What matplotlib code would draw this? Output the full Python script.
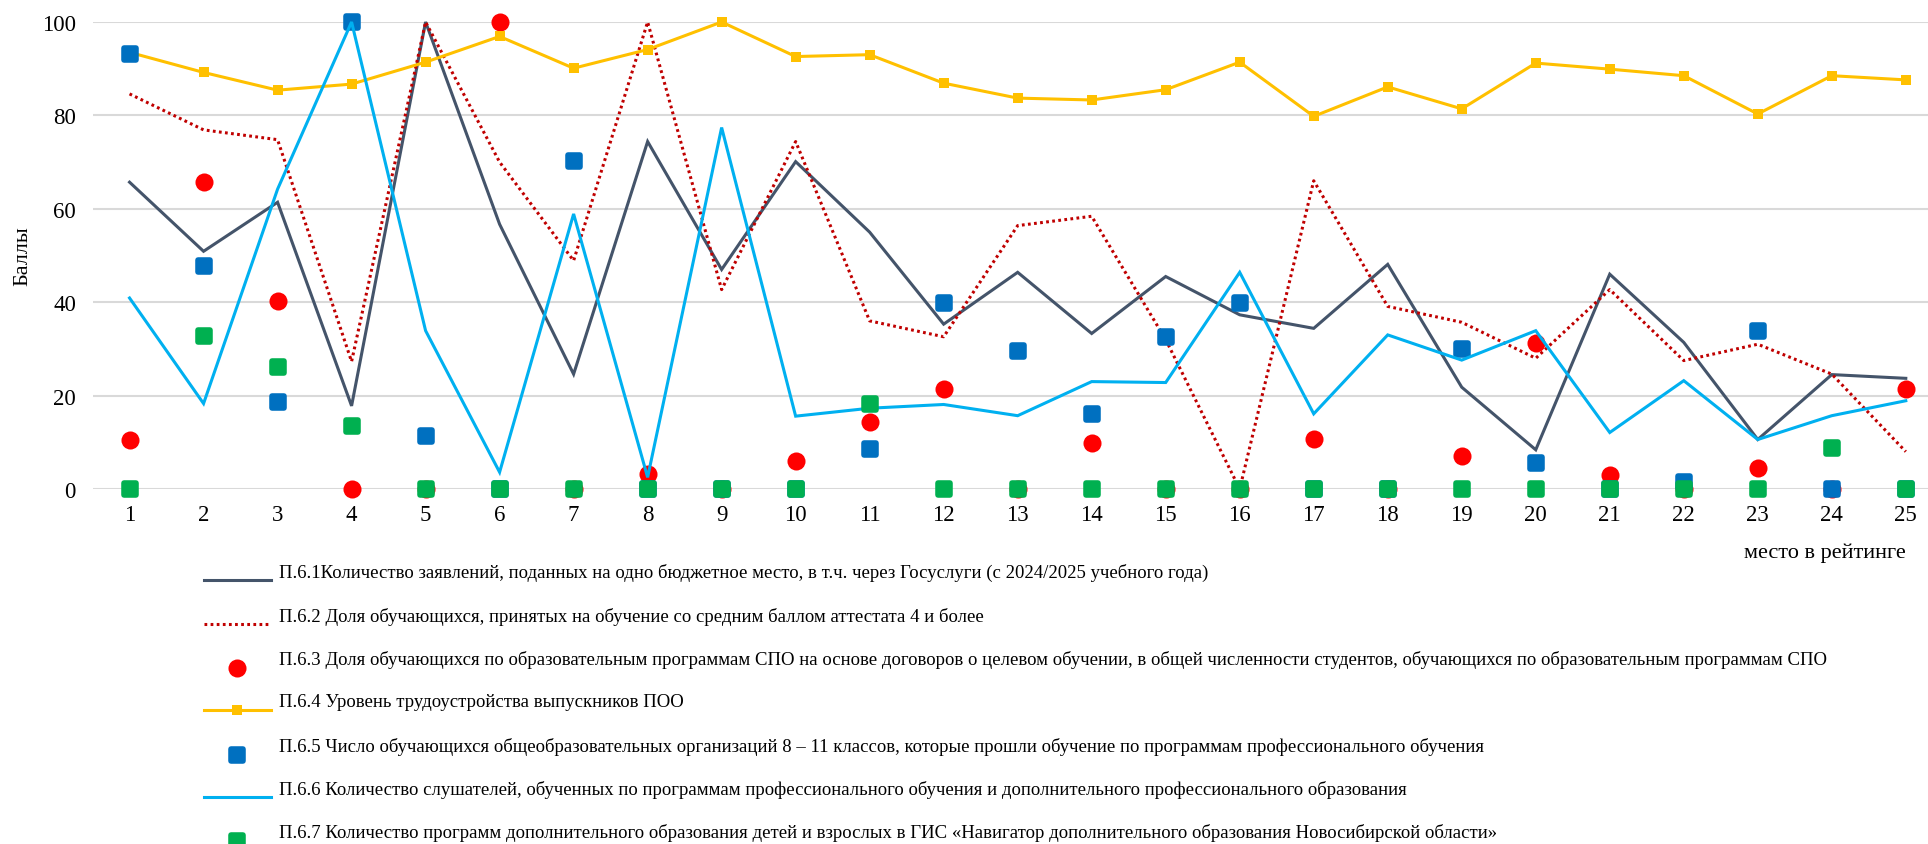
import matplotlib
matplotlib.use("Agg")
import matplotlib.pyplot as plt
from matplotlib.lines import Line2D
from matplotlib.markers import MarkerStyle

plt.rcParams['font.family'] = ['Liberation Serif', 'DejaVu Serif']

places = list(range(1, 26))

p61 = [65.7, 50.9, 61.4, 17.8, 100, 56.7, 24.6, 74.4, 47.0, 70.1, 55.0, 35.3, 46.4,
       33.3, 45.5, 37.3, 34.4, 48.1, 21.8, 8.4, 46.0, 31.4, 10.6, 24.5, 23.7]
p62 = [84.6, 76.9, 74.8, 27.3, 100, 70.0, 48.9, 100, 42.7, 74.4, 36.0, 32.6, 56.4,
       58.4, 32.0, 0, 66.0, 39.1, 35.7, 28.0, 42.7, 27.5, 31.0, 24.6, 8.0]
p63 = [10.6, 65.8, 40.3, 0, 0, 100, 0, 3.2, 0, 5.9, 14.3, 21.4, 0,
       9.9, 0, 0, 10.7, 0, 7.0, 31.2, 3.1, 0, 4.4, 0, 21.4]
p64 = [93.5, 89.2, 85.4, 86.7, 91.4, 96.9, 90.1, 94.1, 100, 92.6, 93.0, 86.9, 83.7,
       83.3, 85.5, 91.4, 79.8, 86.1, 81.4, 91.2, 89.9, 88.5, 80.3, 88.5, 87.6]
p65 = [93.1, 47.8, 18.6, 100, 11.4, 0, 70.2, 0, 0, 0, 8.6, 39.8, 29.5,
       16.1, 32.5, 39.8, 0, 0, 30.0, 5.6, 0, 1.4, 33.9, 0, 0]
p66 = [40.9, 18.3, 64.2, 100, 33.9, 3.6, 58.9, 2.5, 77.4, 15.6, 17.3, 18.1, 15.7,
       23.0, 22.8, 46.4, 16.1, 33.0, 27.6, 33.9, 12.1, 23.2, 10.6, 15.7, 18.9]
p67 = [0, 32.8, 26.2, 13.4, 0, 0, 0, 0, 0, 0, 18.2, 0, 0,
       0, 0, 0, 0, 0, 0, 0, 0, 0, 0, 8.8, 0]

labels = [
    "П.6.1Количество заявлений, поданных на одно бюджетное место, в т.ч. через Госуслуги (с 2024/2025 учебного года)",
    "П.6.2 Доля обучающихся, принятых на обучение со средним баллом аттестата 4 и более",
    "П.6.3 Доля обучающихся по образовательным программам СПО на основе договоров о целевом обучении, в общей численности студентов, обучающихся по образовательным программам СПО",
    "П.6.4 Уровень трудоустройства выпускников ПОО",
    "П.6.5 Число обучающихся общеобразовательных организаций 8 – 11 классов, которые прошли обучение по программам профессионального обучения",
    "П.6.6 Количество слушателей, обученных по программам профессионального обучения и дополнительного профессионального образования",
    "П.6.7 Количество программ дополнительного образования детей и взрослых в ГИС «Навигатор дополнительного образования Новосибирской области»",
]

rsq = MarkerStyle('s', joinstyle='round')
styles = [
    dict(color='#44546A', lw=2.2, ls='-', marker=None),
    dict(color='#C00000', lw=2.2, ls=(0, (0.9, 1.1)), marker=None),
    dict(color='#FF0000', lw=0, ls='none', marker='o', ms=13, mew=0),
    dict(color='#FFC000', lw=2.2, ls='-', marker='s', ms=7.5, mew=0),
    dict(color='#0070C0', lw=0, ls='none', marker=rsq, ms=9, mew=4),
    dict(color='#00B0F0', lw=2.2, ls='-', marker=None),
    dict(color='#00B050', lw=0, ls='none', marker=rsq, ms=9, mew=4),
]
series = [p61, p62, p63, p64, p65, p66, p67]

fig = plt.figure(figsize=(19.28, 8.45), dpi=100)
ax = fig.add_axes([0.048, 0.4201, 0.952, 0.5527])

for vals, st in zip(series, styles):
    ax.plot(places, vals, color=st['color'], lw=st['lw'], ls=st['ls'],
            marker=st['marker'], ms=st.get('ms', 0), mew=st.get('mew', 0),
            mec=st['color'], mfc=st['color'], clip_on=False,
            solid_joinstyle='miter')

ax.set_xlim(0.5, 25.3)
ax.set_ylim(0, 100)
ax.set_xticks(places)
ax.set_yticks(range(0, 101, 20))
ax.grid(axis='y', color='#D9D9D9', lw=1.5)
ax.set_axisbelow(True)
for s in ax.spines.values():
    s.set_visible(False)
ax.tick_params(length=0, labelsize=16.5, colors='black')
ax.tick_params(axis='y', pad=12)
ax.tick_params(axis='x', pad=11)
ax.set_ylabel("Баллы", fontsize=16)
ax.yaxis.set_label_coords(-0.033, 0.5)

fig.text(1906 / 1928, 1 - 553 / 845, "место в рейтинге", fontsize=16,
         ha='right', va='center')

# legend drawn row by row below the plot
W, H = 1928, 845
rows_y = [573, 617, 660, 703, 747, 790, 833]
for lab, st, y in zip(labels, styles, rows_y):
    if st['lw'] > 0:
        yf = 1 - (y + 8) / H
        fig.add_artist(Line2D([204 / W, 271 / W], [yf, yf], transform=fig.transFigure,
                              color=st['color'], lw=st['lw'], ls=st['ls']))
    if st['marker'] is not None:
        my = 1 - (y + 8) / H if st['lw'] > 0 else 1 - (y + 9) / H
        fig.add_artist(Line2D([237 / W], [my], transform=fig.transFigure,
                              color=st['color'], marker=st['marker'], ls='none',
                              ms=st.get('ms', 0), mew=st.get('mew', 0), mec=st['color']))
    fig.text(279 / W, 1 - y / H, lab, fontsize=13.5, ha='left', va='center')

fig.savefig("out.png", dpi=100)
